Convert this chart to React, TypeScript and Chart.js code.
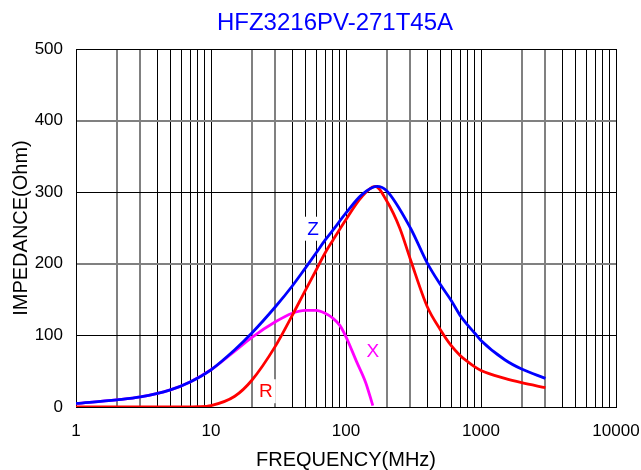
import { useEffect, useRef } from 'react'
import { Chart, registerables } from 'chart.js'
import type { Plugin } from 'chart.js'

Chart.register(...registerables)

const chartTitle = 'HFZ3216PV-271T45A'
const xAxisTitle = 'FREQUENCY(MHz)'
const yAxisTitle = 'IMPEDANCE(Ohm)'

// |Z| curve (blue)
const zFreq = [1, 2, 3, 5, 7, 10, 15, 20, 30, 40, 50, 60, 70, 80, 100, 130, 170, 200, 300, 400, 500, 600, 700, 800, 900, 1000, 1500, 2000, 3000]
const zOhm = [5, 10, 14, 24, 35, 52, 80, 103, 140, 169, 194, 215, 233, 247, 271, 296, 308, 302, 250, 201, 171, 149, 128, 114, 103, 93, 66, 53, 40]

// R curve (red)
const rFreq = [1, 2, 5, 8, 10, 15, 20, 30, 40, 50, 60, 70, 80, 100, 130, 165, 200, 250, 300, 400, 500, 600, 700, 800, 900, 1000, 1500, 2000, 3000]
const rOhm = [0, 0, 0, 0.5, 2, 15, 37, 85, 128, 163, 191, 215, 233, 262, 293, 308, 288, 250, 206, 140, 108, 86, 72, 63, 56, 51, 40, 34, 27]

// X curve (magenta)
const xFreq = [1, 2, 3, 5, 7, 10, 15, 20, 30, 40, 50, 60, 70, 80, 90, 100, 120, 140, 158]
const xOhm = [5, 10, 14, 24, 35, 52, 78, 97, 119, 131, 135, 135, 131, 124, 114, 98, 63, 34, 2]

const decades = [1, 10, 100, 1000, 10000]
const xTickLabels = ['1', '10', '100', '1000', '10000']

// curve captions, placed in data units
const captionText = ['Z', 'R', 'X']
const captionFreq = [57, 25.5, 158]
const captionOhm = [249, 22, 78]
const captionColor = ['#0000ff', '#ff0000', '#ff00ff']

const pairs = (xs: number[], ys: number[]) => xs.map((x, i) => ({ x, y: ys[i] }))

const mantissa = (v: number) => Math.round(v / Math.pow(10, Math.floor(Math.log10(v) + 1e-9)))

const titlePlugin: Plugin<'line'> = {
  id: 'topTitle',
  afterDraw(chart) {
    const { ctx, chartArea } = chart
    ctx.save()
    ctx.font = '24px "Liberation Sans", Arial, sans-serif'
    ctx.fillStyle = '#0000ff'
    ctx.textAlign = 'center'
    ctx.textBaseline = 'middle'
    ctx.fillText(chartTitle, (chartArea.left + chartArea.right) / 2 - 11, chartArea.top - 26)
    ctx.restore()
  },
}

const captionPlugin: Plugin<'line'> = {
  id: 'captions',
  beforeDatasetsDraw(chart) {
    const { ctx, scales } = chart
    ctx.save()
    ctx.font = '19px "Liberation Sans", Arial, sans-serif'
    ctx.textAlign = 'center'
    ctx.textBaseline = 'middle'
    captionText.forEach((t, i) => {
      const px = scales.x.getPixelForValue(captionFreq[i])
      const py = scales.y.getPixelForValue(captionOhm[i])
      const w = ctx.measureText(t).width
      ctx.fillStyle = '#fff'
      ctx.fillRect(px - w / 2 - 3, py - 12, w + 6, 24)
      ctx.fillStyle = captionColor[i]
      ctx.fillText(t, px, py + 1)
    })
    ctx.restore()
  },
}

export default function App() {
  const canvasRef = useRef<HTMLCanvasElement>(null)

  useEffect(() => {
    if (!canvasRef.current) return
    Chart.defaults.font.family = '"Liberation Sans", Arial, sans-serif'
    Chart.defaults.color = '#000'

    const chart = new Chart(canvasRef.current, {
      type: 'line',
      data: {
        datasets: [
          { label: 'Z', data: pairs(zFreq, zOhm), borderColor: '#0000ff', borderWidth: 2.8, pointRadius: 0, cubicInterpolationMode: 'monotone', fill: false },
          { label: 'R', data: pairs(rFreq, rOhm), borderColor: '#ff0000', borderWidth: 2.8, pointRadius: 0, cubicInterpolationMode: 'monotone', fill: false },
          { label: 'X', data: pairs(xFreq, xOhm), borderColor: '#ff00ff', borderWidth: 2.8, pointRadius: 0, cubicInterpolationMode: 'monotone', fill: false },
        ],
      },
      options: {
        responsive: true,
        maintainAspectRatio: false,
        animation: false,
        layout: { padding: { top: 49, right: 25, left: 0, bottom: 0 } },
        plugins: { legend: { display: false }, tooltip: { enabled: false } },
        scales: {
          x: {
            type: 'logarithmic',
            min: 1,
            max: 10000,
            afterBuildTicks: (s) => {
              const ticks: { value: number; major?: boolean }[] = []
              decades.forEach((d, i) => {
                if (i === decades.length - 1) {
                  ticks.push({ value: d, major: true })
                  return
                }
                for (let m = 1; m < 10; m++) ticks.push({ value: m * d, major: m === 1 })
              })
              s.ticks = ticks
            },
            afterFit: (s) => {
              s.height = 63
              // keep the last tick label from shrinking the plot
              s.paddingLeft = 0
              s.paddingRight = 0
            },
            ticks: {
              autoSkip: false,
              maxRotation: 0,
              padding: 14,
              font: { size: 17 },
              callback: (v) => {
                const i = decades.indexOf(Number(v))
                return i >= 0 ? xTickLabels[i] : ''
              },
            },
            grid: {
              drawTicks: false,
              color: (c) => {
                const m = mantissa(c.tick.value)
                return m === 2 || m === 3 ? '#808080' : '#000'
              },
              lineWidth: (c) => {
                const m = mantissa(c.tick.value)
                return m === 2 || m === 3 ? 2 : 1
              },
            },
            border: { display: true, color: '#000', width: 1 },
            title: { display: true, text: xAxisTitle, font: { size: 20, lineHeight: 1 }, padding: { top: 0, bottom: 0 } },
          },
          y: {
            min: 0,
            max: 500,
            afterFit: (s) => {
              s.width = 76
            },
            ticks: { stepSize: 100, padding: 13, font: { size: 17 } },
            grid: {
              drawTicks: false,
              color: (c) => (c.tick.value === 200 || c.tick.value === 400 ? '#808080' : '#000'),
              lineWidth: (c) => (c.tick.value === 200 || c.tick.value === 400 ? 2 : 1),
            },
            border: { display: true, color: '#000', width: 1 },
            title: { display: true, text: yAxisTitle, font: { size: 20 }, padding: { top: 9, bottom: 0 } },
          },
        },
      },
      plugins: [titlePlugin, captionPlugin],
    })

    return () => chart.destroy()
  }, [])

  return (
    <div style={{ position: 'absolute', left: 0, top: 0, width: 641, height: 470 }}>
      <canvas ref={canvasRef} />
    </div>
  )
}
